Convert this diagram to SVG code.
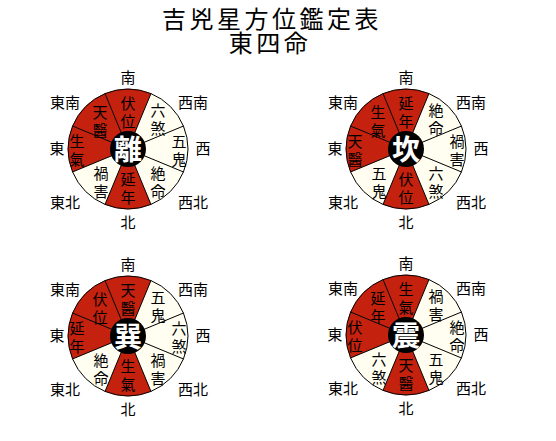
<svg xmlns="http://www.w3.org/2000/svg" xmlns:xlink="http://www.w3.org/1999/xlink" width="556" height="441" viewBox="0 0 556 441">
<style>
text{font-family:"Noto Sans CJK JP","Noto Sans CJK TC",sans-serif;fill:#000;text-anchor:middle}
.title{font-size:24px;letter-spacing:3.5px}
.dir{font-size:15px}
.sec{font-size:15px}
.ctr{font-size:28px;font-weight:bold;fill:#fff}
.red{fill:#C4220E}
.bg{fill:#FFFEF0}
.ln{fill:none;stroke:#000;stroke-width:1}
.hub{fill:#000}
</style>
<defs>
<path id="s0" d="M0,0 L-22.96,-55.43 A60,60 0 0 1 22.96,-55.43 Z"/>
<path id="s1" d="M0,0 L22.96,-55.43 A60,60 0 0 1 55.43,-22.96 Z"/>
<path id="s2" d="M0,0 L55.43,-22.96 A60,60 0 0 1 55.43,22.96 Z"/>
<path id="s3" d="M0,0 L55.43,22.96 A60,60 0 0 1 22.96,55.43 Z"/>
<path id="s4" d="M0,0 L22.96,55.43 A60,60 0 0 1 -22.96,55.43 Z"/>
<path id="s5" d="M0,0 L-22.96,55.43 A60,60 0 0 1 -55.43,22.96 Z"/>
<path id="s6" d="M0,0 L-55.43,22.96 A60,60 0 0 1 -55.43,-22.96 Z"/>
<path id="s7" d="M0,0 L-55.43,-22.96 A60,60 0 0 1 -22.96,-55.43 Z"/>
<circle id="disc" r="60" class="bg"/>
<g id="frame">
<path class="ln" d="M-22.96,-55.43 L22.96,55.43 M22.96,-55.43 L-22.96,55.43 M55.43,-22.96 L-55.43,22.96 M55.43,22.96 L-55.43,-22.96"/>
<circle r="60" class="ln"/>
<circle r="18" class="hub"/>
</g>
<g id="dirs" class="dir">
<text x="0" y="-66.3">南</text>
<text x="-63" y="-41.3">東南</text>
<text x="65" y="-41.3">西南</text>
<text x="-71" y="4.7">東</text>
<text x="75" y="4.7">西</text>
<text x="-63" y="58.7">東北</text>
<text x="65" y="58.7">西北</text>
<text x="0" y="78.7">北</text>
</g>
</defs>

<g id="title">
<text class="title" x="272" y="28">吉兇星方位鑑定表</text>
<text class="title" x="270" y="52">東四命</text>
</g>

<g id="wheel-li" transform="translate(128,149)">
<use xlink:href="#disc"/>
<use xlink:href="#s0" class="red"/><use xlink:href="#s4" class="red"/><use xlink:href="#s6" class="red"/><use xlink:href="#s7" class="red"/>
<use xlink:href="#frame"/>
<use xlink:href="#dirs"/>
<g class="sec">
<text x="0" y="-40.3">伏<tspan x="0" dy="18">位</tspan></text>
<text x="30" y="-33.3">六<tspan x="30" dy="18">煞</tspan></text>
<text x="51" y="-2.3">五<tspan x="51" dy="18">鬼</tspan></text>
<text x="30" y="29.7">絶<tspan x="30" dy="18">命</tspan></text>
<text x="0" y="35.7">延<tspan x="0" dy="18">年</tspan></text>
<text x="-27" y="29.7">禍<tspan x="-27" dy="18">害</tspan></text>
<text x="-51" y="-2.3">生<tspan x="-51" dy="18">氣</tspan></text>
<text x="-28" y="-31.3">天<tspan x="-28" dy="18">醫</tspan></text>
</g>
<text class="ctr" x="0" y="10.6">離</text>
</g>

<g id="wheel-kan" transform="translate(406,149)">
<use xlink:href="#disc"/>
<use xlink:href="#s0" class="red"/><use xlink:href="#s4" class="red"/><use xlink:href="#s6" class="red"/><use xlink:href="#s7" class="red"/>
<use xlink:href="#frame"/>
<use xlink:href="#dirs"/>
<g class="sec">
<text x="0" y="-40.3">延<tspan x="0" dy="18">年</tspan></text>
<text x="30" y="-33.3">絶<tspan x="30" dy="18">命</tspan></text>
<text x="51" y="-2.3">禍<tspan x="51" dy="18">害</tspan></text>
<text x="30" y="29.7">六<tspan x="30" dy="18">煞</tspan></text>
<text x="0" y="35.7">伏<tspan x="0" dy="18">位</tspan></text>
<text x="-27" y="29.7">五<tspan x="-27" dy="18">鬼</tspan></text>
<text x="-51" y="-2.3">天<tspan x="-51" dy="18">醫</tspan></text>
<text x="-28" y="-31.3">生<tspan x="-28" dy="18">氣</tspan></text>
</g>
<text class="ctr" x="0" y="10.6">坎</text>
</g>

<g id="wheel-xun" transform="translate(128,336)">
<use xlink:href="#disc"/>
<use xlink:href="#s0" class="red"/><use xlink:href="#s4" class="red"/><use xlink:href="#s6" class="red"/><use xlink:href="#s7" class="red"/>
<use xlink:href="#frame"/>
<use xlink:href="#dirs"/>
<g class="sec">
<text x="0" y="-40.3">天<tspan x="0" dy="18">醫</tspan></text>
<text x="30" y="-33.3">五<tspan x="30" dy="18">鬼</tspan></text>
<text x="51" y="-2.3">六<tspan x="51" dy="18">煞</tspan></text>
<text x="30" y="29.7">禍<tspan x="30" dy="18">害</tspan></text>
<text x="0" y="35.7">生<tspan x="0" dy="18">氣</tspan></text>
<text x="-27" y="29.7">絶<tspan x="-27" dy="18">命</tspan></text>
<text x="-51" y="-2.3">延<tspan x="-51" dy="18">年</tspan></text>
<text x="-28" y="-31.3">伏<tspan x="-28" dy="18">位</tspan></text>
</g>
<text class="ctr" x="0" y="10.6">巽</text>
</g>

<g id="wheel-zhen" transform="translate(406,335)">
<use xlink:href="#disc"/>
<use xlink:href="#s0" class="red"/><use xlink:href="#s4" class="red"/><use xlink:href="#s6" class="red"/><use xlink:href="#s7" class="red"/>
<use xlink:href="#frame"/>
<use xlink:href="#dirs"/>
<g class="sec">
<text x="0" y="-40.3">生<tspan x="0" dy="18">氣</tspan></text>
<text x="30" y="-33.3">禍<tspan x="30" dy="18">害</tspan></text>
<text x="51" y="-2.3">絶<tspan x="51" dy="18">命</tspan></text>
<text x="30" y="29.7">五<tspan x="30" dy="18">鬼</tspan></text>
<text x="0" y="35.7">天<tspan x="0" dy="18">醫</tspan></text>
<text x="-27" y="29.7">六<tspan x="-27" dy="18">煞</tspan></text>
<text x="-51" y="-2.3">伏<tspan x="-51" dy="18">位</tspan></text>
<text x="-28" y="-31.3">延<tspan x="-28" dy="18">年</tspan></text>
</g>
<text class="ctr" x="0" y="10.6">震</text>
</g>
</svg>
